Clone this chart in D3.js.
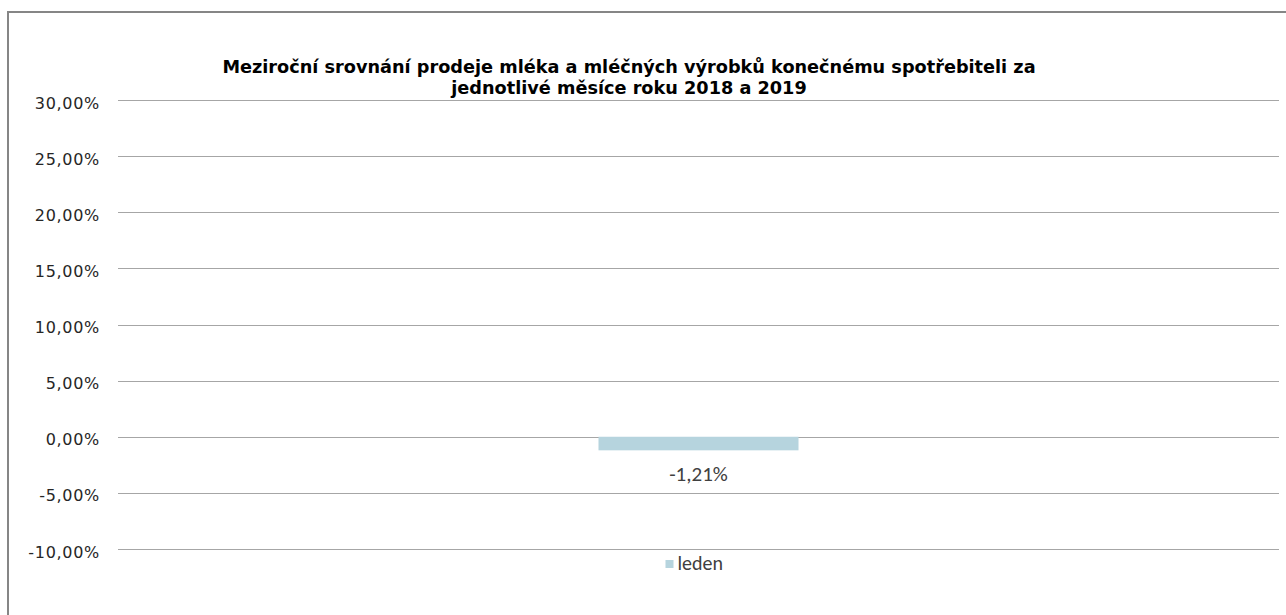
<!DOCTYPE html>
<html>
<head>
<meta charset="utf-8">
<script src="https://cdn.jsdelivr.net/npm/d3@7"></script>
<style>
  body { margin: 0; background: #fff; }
  svg { display: block; }
</style>
</head>
<body>
<div id="chart"></div>
<script>
const categories = ["leden"];
const values = [-1.21];
const tickValues = [-10, -5, 0, 5, 10, 15, 20, 25, 30];
const titleLines = [
  "Meziroční srovnání prodeje mléka a mléčných výrobků konečnému spotřebiteli za",
  "jednotlivé měsíce roku 2018 a 2019"
];

const W = 1286, H = 615;
const margin = { top: 100, right: 7, bottom: 66, left: 118 };
const width = W - margin.left - margin.right;
const height = H - margin.top - margin.bottom;

const fmt = (v) => v.toFixed(2).replace(".", ",") + "%";

const svg = d3.select("#chart").append("svg").attr("width", W).attr("height", H);

// outer frame
svg.append("rect")
  .attr("x", 8).attr("y", 12)
  .attr("width", W + 10).attr("height", H + 10)
  .attr("fill", "none").attr("stroke", "#868686").attr("stroke-width", 2);

const g = svg.append("g").attr("transform", `translate(${margin.left},${margin.top})`);

const y = d3.scaleLinear().domain([-10, 30]).range([height, 0]);
const x = d3.scaleBand().domain(categories).range([0, width]).paddingInner(0.828).paddingOuter(0.414);

// gridlines
g.selectAll("line.grid")
  .data(tickValues)
  .enter()
  .append("line")
  .attr("class", "grid")
  .attr("x1", 0).attr("x2", width)
  .attr("y1", (d) => Math.round(y(d)) + 0.5)
  .attr("y2", (d) => Math.round(y(d)) + 0.5)
  .attr("stroke", "#a6a6a6").attr("stroke-width", 1);

// y axis labels
const yAxis = d3.axisLeft(y).tickValues(tickValues).tickFormat(fmt).tickSize(0).tickPadding(18);
const ax = g.append("g").call(yAxis);
ax.select(".domain").remove();
ax.selectAll("text")
  .attr("dy", "0.5em")
  .attr("font-family", "Verdana, 'DejaVu Sans', sans-serif")
  .attr("font-size", 16)
  .attr("letter-spacing", 0.7)
  .attr("fill", "#262626");

// bars
const bw = 200;
g.selectAll("rect.bar")
  .data(values)
  .enter()
  .append("rect")
  .attr("class", "bar")
  .attr("x", (d, i) => x(categories[i]) + x.bandwidth() / 2 - bw / 2)
  .attr("y", (d) => y(Math.max(0, d)))
  .attr("width", bw)
  .attr("height", (d) => Math.abs(y(d) - y(0)))
  .attr("fill", "#b6d4de");

// data labels
g.selectAll("text.lbl")
  .data(values)
  .enter()
  .append("text")
  .attr("class", "lbl")
  .attr("x", (d, i) => x(categories[i]) + x.bandwidth() / 2)
  .attr("y", (d) => y(d) + 31)
  .attr("text-anchor", "middle")
  .attr("font-family", "Carlito, 'Open Sans', sans-serif")
  .attr("font-size", 21)
  .attr("fill", "#404040")
  .text((d) => fmt(d));

// title
const title = svg.append("text")
  .attr("x", 629)
  .attr("y", 73)
  .attr("text-anchor", "middle")
  .attr("font-family", "Verdana, 'DejaVu Sans', sans-serif")
  .attr("font-weight", "bold")
  .attr("font-size", 17.7)
  .attr("fill", "#000");
titleLines.forEach((t, i) => {
  title.append("tspan").attr("x", 629).attr("dy", i === 0 ? 0 : 21).text(t);
});

// legend
const legend = svg.append("g").attr("transform", `translate(${margin.left + x(categories[0]) + x.bandwidth() / 2 - 33},564)`);
legend.append("rect").attr("x", 0).attr("y", -4).attr("width", 8).attr("height", 8).attr("fill", "#b6d4de");
legend.append("text")
  .attr("x", 12).attr("y", 6)
  .attr("font-family", "Carlito, 'Open Sans', sans-serif")
  .attr("font-size", 20)
  .attr("fill", "#404040")
  .text(categories[0]);
</script>
</body>
</html>
